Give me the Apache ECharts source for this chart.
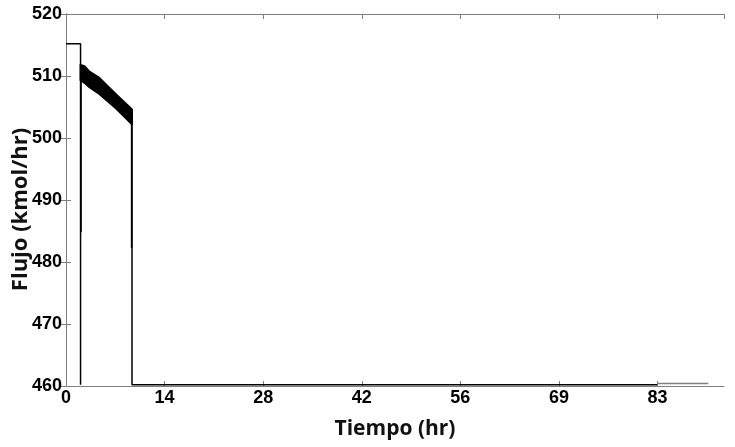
<!DOCTYPE html>
<html><head><meta charset="utf-8">
<script src="https://cdn.jsdelivr.net/npm/echarts@6/dist/echarts.min.js"></script>
<style>html,body{margin:0;padding:0;background:#fff}#c{width:735px;height:447px}</style>
</head><body><div id="c"></div>
<script>
// Axis settings (x ticks every 50000 s, shown in hours)
const xTickStep = 50 / 3.6;
const xMin = 0, xMax = 92.7;
const yMin = 460, yMax = 520, yStep = 10;

// Main flow trace (hr, kmol/hr)
const flowTime  = [0,     2.05,  2.05,  2.05,  9.3,   9.3,   83.3];
const flowValue = [515.2, 515.2, 460.2, 510.6, 503.4, 460.2, 460.2];

// Oscillating band envelope
const bandTime = [2.05,  2.6,   3.3,   4.7,   7.1,   9.3];
const bandLow  = [509.3, 508.9, 508.2, 507.1, 504.7, 502.2];
const bandHigh = [511.8, 511.6, 510.7, 509.7, 507.0, 504.6];

// Short overlapping drops
const spike1Time = [2.12, 2.12];
const spike1Value = [509.5, 484.8];
const spike2Time = [9.24, 9.24];
const spike2Value = [503.0, 482.3];

// Grey tail segment
const tailTime = [83.3, 90.5];
const tailValue = [460.4, 460.4];

const zip = (a, b) => a.map((v, i) => [v, b[i]]);
const axisGrey = '#7f7f7f';
const tickFont = {fontFamily: 'Liberation Sans', fontWeight: 'bold', fontSize: 18, color: '#000'};

const chart = echarts.init(document.getElementById('c'), null, {renderer: 'canvas'});
chart.setOption({
  animation: false,
  backgroundColor: '#fff',
  grid: {left: 66, right: 11, top: 14, bottom: 61, containLabel: false, outerBoundsMode: 'none'},
  xAxis: [{
    type: 'value', min: xMin, max: xMax, interval: xTickStep, position: 'bottom',
    axisLine: {show: true, lineStyle: {color: axisGrey, width: 1}},
    axisTick: {show: true, inside: true, length: 5, lineStyle: {color: axisGrey}},
    splitLine: {show: false},
    axisLabel: Object.assign({margin: 3, showMaxLabel: false, formatter: v => String(Math.round(v))}, tickFont),
    name: 'Tiempo (hr)', nameLocation: 'middle', nameGap: 33, nameMoveOverlap: false,
    nameTextStyle: {fontFamily: 'Open Sans', fontWeight: 'bold', fontSize: 21, color: '#111'}
  }, {
    type: 'value', min: xMin, max: xMax, interval: xTickStep, position: 'top',
    axisLine: {show: true, lineStyle: {color: axisGrey, width: 1}},
    axisTick: {show: true, inside: true, length: 5, lineStyle: {color: axisGrey}},
    splitLine: {show: false}, axisLabel: {show: false}
  }],
  yAxis: [{
    type: 'value', min: yMin, max: yMax, interval: yStep, position: 'left',
    axisLine: {show: true, lineStyle: {color: axisGrey, width: 1}},
    axisTick: {show: true, inside: true, length: 5, lineStyle: {color: axisGrey}},
    splitLine: {show: false},
    axisLabel: Object.assign({margin: 4}, tickFont),
    name: 'Flujo (kmol/hr)', nameLocation: 'middle', nameGap: 34, nameMoveOverlap: false,
    nameTextStyle: {fontFamily: 'Open Sans', fontWeight: 'bold', fontSize: 22, color: '#111', padding: [0, 19, 0, 0]}
  }, {
    type: 'value', min: yMin, max: yMax, interval: yStep, position: 'right',
    axisLine: {show: true, lineStyle: {color: axisGrey, width: 1}},
    axisTick: {show: true, inside: true, length: 5, lineStyle: {color: axisGrey}},
    splitLine: {show: false}, axisLabel: {show: false}
  }],
  series: [
    {type: 'line', data: zip(flowTime, flowValue), symbol: 'none', lineStyle: {color: '#000', width: 1.5}, z: 3},
    {
      type: 'custom', z: 4, clip: true,
      data: [0],
      renderItem: function (params, api) {
        const pts = [];
        for (let i = 0; i < bandTime.length; i++) pts.push(api.coord([bandTime[i], bandHigh[i]]));
        for (let i = bandTime.length - 1; i >= 0; i--) pts.push(api.coord([bandTime[i], bandLow[i]]));
        return {type: 'polygon', shape: {points: pts}, style: {fill: '#000', stroke: '#000', lineWidth: 2, lineJoin: 'round'}};
      }
    },
    {type: 'line', data: zip(spike1Time, spike1Value), symbol: 'none', lineStyle: {color: '#000', width: 1.5}, z: 3},
    {type: 'line', data: zip(spike2Time, spike2Value), symbol: 'none', lineStyle: {color: '#000', width: 1.5}, z: 3},
    {type: 'line', data: zip(tailTime, tailValue), symbol: 'none', lineStyle: {color: '#808080', width: 1.5}, z: 3}
  ]
});
</script>
</body></html>
